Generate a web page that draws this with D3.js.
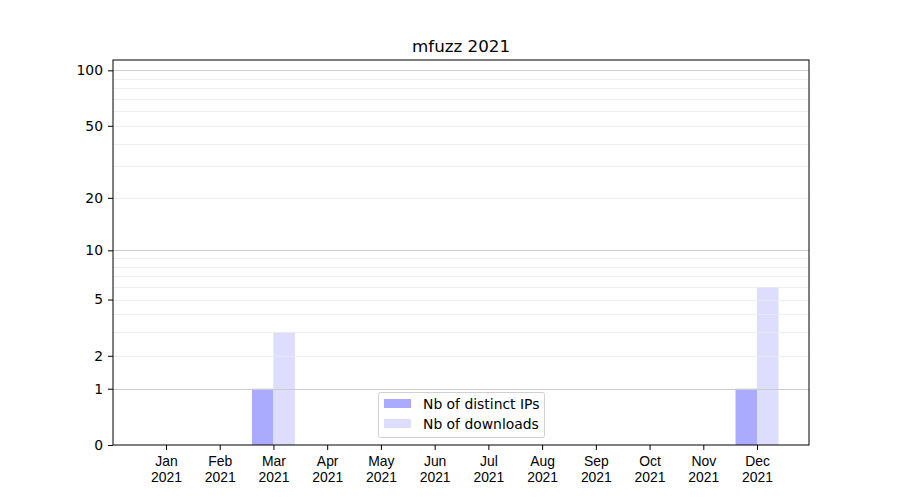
<!DOCTYPE html>
<html>
<head>
<meta charset="utf-8">
<script src="https://cdn.jsdelivr.net/npm/d3@7"></script>
<style>
  body { margin: 0; background: #fff; }
  svg { display: block; font-family: "DejaVu Sans", sans-serif; }
</style>
</head>
<body>
<svg id="chart" width="900" height="500"></svg>
<script>
const title = "mfuzz 2021";
const months = ["Jan", "Feb", "Mar", "Apr", "May", "Jun", "Jul", "Aug", "Sep", "Oct", "Nov", "Dec"];
const yearLabel = "2021";
const distinctIPs = [0, 0, 1, 0, 0, 0, 0, 0, 0, 0, 0, 1];
const downloads   = [0, 0, 3, 0, 0, 0, 0, 0, 0, 0, 0, 6];
const yTicks = [0, 1, 2, 5, 10, 20, 50, 100];
const majorGrid = [1, 10, 100];
const minorGrid = [2, 3, 4, 5, 6, 7, 8, 9, 20, 30, 40, 50, 60, 70, 80, 90];
const seriesNames = ["Nb of distinct IPs", "Nb of downloads"];
const colors = ["#aaaaff", "#ddddff"];

const svg = d3.select("#chart");
const L = 113, R = 809, T = 60, B = 445;
const fs = "13.9px";

const x = d3.scaleLinear().domain([-0.986, 11.967]).range([L, R]);
const y = d3.scaleSymlog().constant(1).domain([0, 113.7]).range([B, T]);
const bw = 0.4;

// bars
const g = svg.append("g");
g.selectAll("rect.ip").data(distinctIPs.map((v, i) => ({v, i}))).join("rect")
  .attr("x", d => x(d.i - bw)).attr("width", d => x(d.i) - x(d.i - bw))
  .attr("y", d => y(d.v)).attr("height", d => y(0) - y(d.v))
  .attr("fill", colors[0]);
g.selectAll("rect.dl").data(downloads.map((v, i) => ({v, i}))).join("rect")
  .attr("x", d => x(d.i)).attr("width", d => x(d.i + bw) - x(d.i))
  .attr("y", d => y(d.v)).attr("height", d => y(0) - y(d.v))
  .attr("fill", colors[1]);

// grid
svg.append("g").selectAll("line").data(minorGrid).join("line")
  .attr("x1", L).attr("x2", R)
  .attr("y1", d => Math.round(y(d)) + 0.5).attr("y2", d => Math.round(y(d)) + 0.5)
  .attr("stroke", "#ebebeb").attr("stroke-width", 0.8);
svg.append("g").selectAll("line").data(majorGrid).join("line")
  .attr("x1", L).attr("x2", R)
  .attr("y1", d => Math.round(y(d)) + 0.5).attr("y2", d => Math.round(y(d)) + 0.5)
  .attr("stroke", "#cccccc").attr("stroke-width", 1);

// frame
svg.append("rect").attr("x", L).attr("y", T).attr("width", R - L).attr("height", B - T)
  .attr("fill", "none").attr("stroke", "#000").attr("stroke-width", 1);

// y axis
const yAxis = d3.axisLeft(y).tickValues(yTicks).tickFormat(d3.format("d")).tickSize(5).tickPadding(5);
const ya = svg.append("g").attr("transform", `translate(${L},0)`).call(yAxis);
ya.select(".domain").remove();
ya.selectAll("text").attr("font-size", fs).attr("font-family", "DejaVu Sans").attr("fill", "#000");

// x axis
const xAxis = d3.axisBottom(x).tickValues(d3.range(12)).tickFormat(() => "").tickSize(5);
const xa = svg.append("g").attr("transform", `translate(0,${B})`).call(xAxis);
xa.select(".domain").remove();
xa.selectAll(".tick").each(function(d) {
  const t = d3.select(this).append("text").attr("fill", "#000")
    .attr("font-size", fs).attr("text-anchor", "middle");
  t.append("tspan").attr("x", 0).attr("y", 21).text(months[d]);
  t.append("tspan").attr("x", 0).attr("y", 37).text(yearLabel);
});

// title
svg.append("text").attr("x", (L + R) / 2).attr("y", 52).attr("text-anchor", "middle")
  .attr("font-size", "16.7px").text(title);

// legend
const lg = svg.append("g").attr("transform", "translate(378,392)");
lg.append("rect").attr("x", 0.5).attr("y", 0.5).attr("width", 166).attr("height", 45).attr("rx", 2)
  .attr("fill", "#fff").attr("fill-opacity", 0.8).attr("stroke", "#d0d0d0");
seriesNames.forEach((s, i) => {
  lg.append("rect").attr("x", 6).attr("y", 7 + i * 20).attr("width", 27).attr("height", 9).attr("fill", colors[i]);
  lg.append("text").attr("x", 45).attr("y", 16.5 + i * 20).attr("font-size", fs).text(s);
});
</script>
</body>
</html>
